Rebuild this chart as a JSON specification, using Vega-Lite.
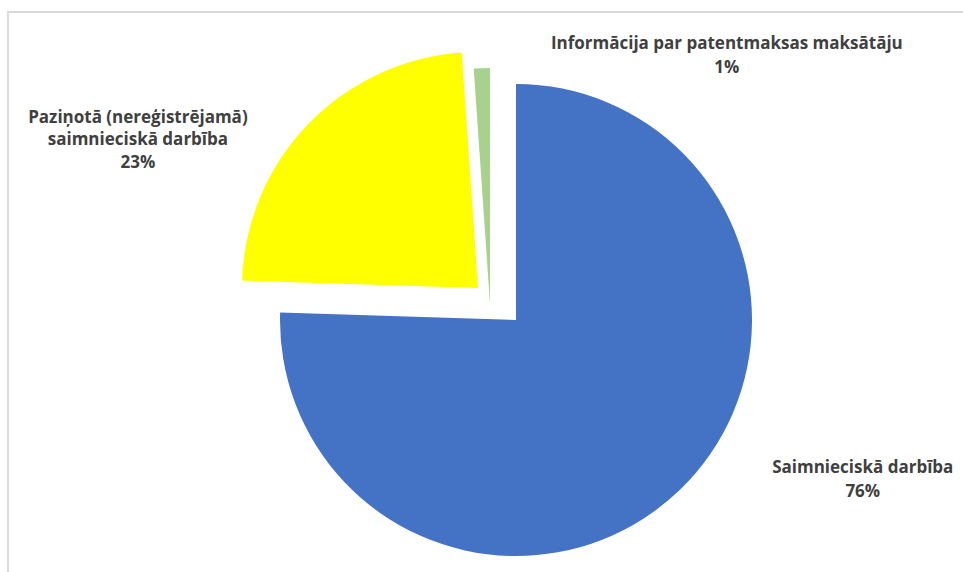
{
  "$schema": "https://vega.github.io/schema/vega-lite/v6.json",
  "width": 1016,
  "height": 616,
  "autosize": {"type": "none"},
  "padding": {"left": 8, "top": 12, "right": 0, "bottom": 0},
  "background": "white",
  "view": {"stroke": "#d9d9d9", "strokeWidth": 2},
  "config": {"view": {"stroke": "#d9d9d9", "strokeWidth": 2}},
  "data": {
    "values": [
      {"order": 1, "category": "Saimnieciskā darbība", "value": 75.5, "label": "Saimnieciskā darbība\n76%"},
      {"order": 2, "category": "Paziņotā (nereģistrējamā) saimnieciskā darbība", "value": 23.4, "label": "Paziņotā (nereģistrējamā)\nsaimnieciskā darbība\n23%"},
      {"order": 3, "category": "Informācija par patentmaksas maksātāju", "value": 1.1, "label": "Informācija par patentmaksas maksātāju\n1%"}
    ]
  },
  "transform": [
    {"stack": "value", "groupby": [], "sort": [{"field": "order", "order": "ascending"}], "as": ["v0", "v1"]}
  ],
  "layer": [
    {
      "transform": [{"filter": "datum.order == 1"}],
      "mark": {"type": "arc", "radius": 236, "color": "#4472C4"},
      "encoding": {
        "theta": {"field": "v0", "type": "quantitative", "stack": null, "scale": {"domain": [0, 100]}},
        "theta2": {"field": "v1"}
      }
    },
    {
      "transform": [{"filter": "datum.order == 2"}],
      "mark": {"type": "arc", "radius": 236, "color": "#FFFF00", "xOffset": -38, "yOffset": -32},
      "encoding": {
        "theta": {"field": "v0", "type": "quantitative", "stack": null, "scale": {"domain": [0, 100]}},
        "theta2": {"field": "v1"}
      }
    },
    {
      "transform": [{"filter": "datum.order == 3"}],
      "mark": {"type": "arc", "radius": 236, "color": "#A9D18E", "xOffset": -26, "yOffset": -16},
      "encoding": {
        "theta": {"field": "v0", "type": "quantitative", "stack": null, "scale": {"domain": [0, 100]}},
        "theta2": {"field": "v1"}
      }
    },
    {
      "mark": {"type": "text", "radius": 300, "dx": 138, "dy": -67, "align": "center", "baseline": "middle", "lineBreak": "\n", "lineHeight": 24, "font": "Open Sans", "fontWeight": "bold", "fontSize": 17, "color": "#404040"},
      "encoding": {
        "theta": {"field": "value", "type": "quantitative", "stack": true, "scale": {"domain": [0, 100]}},
        "order": {"field": "order"},
        "text": {"condition": {"test": "datum.order === 1", "field": "label"}, "value": ""}
      }
    },
    {
      "mark": {"type": "text", "radius": 300, "dx": -162, "dy": 6, "align": "center", "baseline": "middle", "lineBreak": "\n", "lineHeight": 22.5, "font": "Open Sans", "fontWeight": "bold", "fontSize": 17, "color": "#404040"},
      "encoding": {
        "theta": {"field": "value", "type": "quantitative", "stack": true, "scale": {"domain": [0, 100]}},
        "order": {"field": "order"},
        "text": {"condition": {"test": "datum.order === 2", "field": "label"}, "value": ""}
      }
    },
    {
      "mark": {"type": "text", "radius": 265, "dx": 220, "dy": -11, "align": "center", "baseline": "middle", "lineBreak": "\n", "lineHeight": 24, "font": "Open Sans", "fontWeight": "bold", "fontSize": 17, "color": "#404040"},
      "encoding": {
        "theta": {"field": "value", "type": "quantitative", "stack": true, "scale": {"domain": [0, 100]}},
        "order": {"field": "order"},
        "text": {"condition": {"test": "datum.order === 3", "field": "label"}, "value": ""}
      }
    }
  ]
}
